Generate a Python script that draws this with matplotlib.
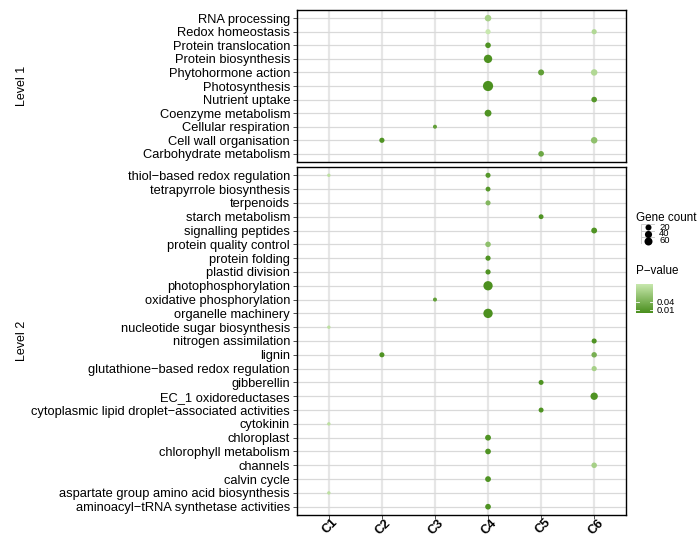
import matplotlib.pyplot as plt
import numpy as np
from matplotlib.colors import LinearSegmentedColormap, Normalize
from matplotlib.patches import Rectangle
import matplotlib.transforms as mtransforms

plt.rcParams['font.family'] = ['Liberation Sans', 'DejaVu Sans']
plt.rcParams['font.size'] = 9

clusters = ['C1', 'C2', 'C3', 'C4', 'C5', 'C6']

# Level 1 terms, top to bottom
level1_terms = ['RNA processing', 'Redox homeostasis', 'Protein translocation',
                'Protein biosynthesis', 'Phytohormone action', 'Photosynthesis',
                'Nutrient uptake', 'Coenzyme metabolism', 'Cellular respiration',
                'Cell wall organisation', 'Carbohydrate metabolism']
level1_term = ['RNA processing', 'Redox homeostasis', 'Redox homeostasis',
               'Protein translocation', 'Protein biosynthesis',
               'Phytohormone action', 'Phytohormone action', 'Photosynthesis',
               'Nutrient uptake', 'Coenzyme metabolism', 'Cellular respiration',
               'Cell wall organisation', 'Cell wall organisation',
               'Carbohydrate metabolism']
level1_cluster = ['C4', 'C4', 'C6', 'C4', 'C4', 'C5', 'C6', 'C4', 'C6', 'C4',
                  'C3', 'C2', 'C6', 'C5']
level1_count = [29, 10, 10, 15, 70, 20, 28, 130, 15, 35, 2, 10, 28, 15]
level1_pvalue = [0.08, 0.11, 0.09, 0.005, 0.003, 0.02, 0.09, 0.001, 0.01,
                 0.005, 0.02, 0.005, 0.06, 0.03]

# Level 2 terms, top to bottom
level2_terms = ['thiol\u2212based redox regulation', 'tetrapyrrole biosynthesis',
                'terpenoids', 'starch metabolism', 'signalling peptides',
                'protein quality control', 'protein folding', 'plastid division',
                'photophosphorylation', 'oxidative phosphorylation',
                'organelle machinery', 'nucleotide sugar biosynthesis',
                'nitrogen assimilation', 'lignin',
                'glutathione\u2212based redox regulation', 'gibberellin',
                'EC_1 oxidoreductases',
                'cytoplasmic lipid droplet\u2212associated activities',
                'cytokinin', 'chloroplast', 'chlorophyll metabolism', 'channels',
                'calvin cycle', 'aspartate group amino acid biosynthesis',
                'aminoacyl\u2212tRNA synthetase activities']
level2_term = [level2_terms[i] for i in
               [0, 0, 1, 2, 3, 4, 5, 6, 7, 8, 9, 10, 11, 12, 13, 13, 14, 15, 16,
                17, 18, 19, 20, 21, 22, 23, 24]]
level2_cluster = ['C1', 'C4', 'C4', 'C4', 'C5', 'C6', 'C4', 'C4', 'C4', 'C4',
                  'C3', 'C4', 'C1', 'C6', 'C2', 'C6', 'C6', 'C5', 'C6', 'C5',
                  'C1', 'C4', 'C4', 'C6', 'C4', 'C1', 'C4']
level2_count = [1, 9, 7, 9, 7, 18, 14, 10, 10, 98, 2, 100, 1, 9, 9, 13, 10, 8,
                45, 8, 1, 18, 16, 14, 17, 1, 16]
level2_pvalue = [0.1, 0.01, 0.01, 0.05, 0.005, 0.005, 0.06, 0.005, 0.005,
                 0.002, 0.02, 0.002, 0.1, 0.005, 0.005, 0.04, 0.08, 0.005,
                 0.005, 0.005, 0.1, 0.005, 0.005, 0.08, 0.005, 0.1, 0.005]

legend_counts = [20, 40, 60]
pvalue_breaks = [0.01, 0.04]

W, H = 699, 537
fig = plt.figure(figsize=(W / 100, H / 100), dpi=100)

cmap = LinearSegmentedColormap.from_list('pv', ['#4a8f1d', '#c8e8ae'])
norm = Normalize(vmin=0.0, vmax=0.11)

all_counts = np.array(level1_count + level2_count)
nmin, nmax = all_counts.min(), all_counts.max()


def dot_size(n):
    # area scale: diameter grows with sqrt of the rescaled count
    frac = (np.asarray(n, float) - nmin) / (nmax - nmin)
    d_px = 3.4 + 6.8 * np.sqrt(np.clip(frac, 0, 1))
    return (d_px * 0.72) ** 2


def panel(rect, terms, term, cluster, count, pvalue, strip):
    ax = fig.add_axes(rect)
    x = [clusters.index(c) for c in cluster]
    y = [terms.index(t) for t in term]
    ax.scatter(x, y, s=dot_size(count), c=cmap(norm(pvalue)), linewidths=0,
               zorder=3)
    ax.set_xlim(-0.6, len(clusters) - 0.4)
    ax.set_ylim(len(terms) - 0.4, -0.6)
    ax.set_xticks(range(len(clusters)))
    ax.set_yticks(range(len(terms)))
    ax.set_yticklabels(terms, fontsize=9.3, color='black')
    ax.xaxis.grid(True, color='#e6e6e6', lw=1.6, zorder=0)
    ax.yaxis.grid(True, color='#d9d9d9', lw=0.9, zorder=0)
    ax.set_axisbelow(True)
    ax.tick_params(axis='y', length=3, width=0.6, color='#333333', pad=2)
    for sp in ax.spines.values():
        sp.set_linewidth(1.0)
        sp.set_color('black')
    pos = ax.get_position()
    fig.text(22 / W, pos.y0 + pos.height / 2, strip, rotation=90,
             ha='center', va='center', fontsize=9)
    return ax


ax1 = panel([297 / W, 1 - 162 / H, 329 / W, 152 / H], level1_terms,
            level1_term, level1_cluster, level1_count, level1_pvalue, 'Level 1')
ax1.tick_params(axis='x', length=0, labelbottom=False)

ax2 = panel([297 / W, 1 - 515 / H, 329 / W, 348 / H], level2_terms,
            level2_term, level2_cluster, level2_count, level2_pvalue, 'Level 2')
ax2.set_xticklabels(clusters, rotation=45, ha='right', va='top',
                    rotation_mode='anchor', fontsize=9.2, fontweight='bold')
ax2.tick_params(axis='x', length=3, width=0.6, color='#333333', pad=0)
shift = mtransforms.ScaledTranslation(3 / 100, 2.5 / 100, fig.dpi_scale_trans)
for lab in ax2.get_xticklabels():
    lab.set_transform(lab.get_transform() + shift)

# Gene count legend
fig.text(636 / W, 1 - 218 / H, 'Gene count', ha='left', va='center', fontsize=8.4)
lg = fig.add_axes([641 / W, 1 - 244 / H, 14 / W, 20 / H])
lg.set_xlim(0, 1)
lg.set_ylim(len(legend_counts), 0)
lg.axis('off')
for i, n in enumerate(legend_counts):
    lg.add_patch(Rectangle((0, i), 1, 1, facecolor='white', edgecolor='#c8c8c8',
                           lw=0.6))
    lg.scatter([0.5], [i + 0.5], s=dot_size(n), color='black', linewidths=0,
               clip_on=False, zorder=3)
    lg.text(1.3, i + 0.5, str(n), ha='left', va='center', fontsize=6.8,
            transform=lg.transData)

# P-value colour bar
fig.text(636 / W, 1 - 271 / H, 'P\u2212value', ha='left', va='center', fontsize=8.4)
cb = fig.add_axes([636 / W, 1 - 313 / H, 17 / W, 29 / H])
grad = np.linspace(norm.vmin, norm.vmax, 200).reshape(-1, 1)
cb.imshow(grad, cmap=cmap, norm=norm, aspect='auto', origin='lower',
          extent=(0, 1, norm.vmin, norm.vmax))
cb.set_xlim(0, 1)
cb.set_ylim(norm.vmin, norm.vmax)
for v in pvalue_breaks:
    cb.plot([0, 0.18], [v, v], color='white', lw=0.6)
    cb.plot([0.82, 1], [v, v], color='white', lw=0.6)
    cb.text(1.2, v, f'{v:.2f}', ha='left', va='center', fontsize=6.8,
            transform=cb.transData)
cb.axis('off')

plt.savefig('out.png', dpi=100, facecolor='white')
